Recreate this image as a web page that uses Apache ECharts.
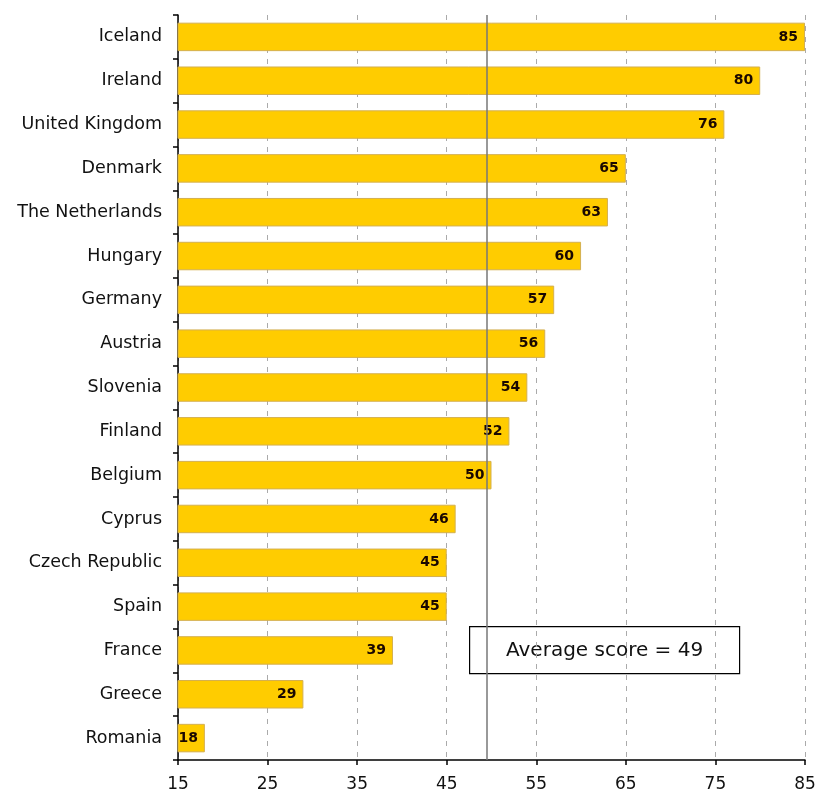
<!DOCTYPE html>
<html><head><meta charset="utf-8">
<script src="https://cdn.jsdelivr.net/npm/echarts@6/dist/echarts.min.js"></script>
<style>html,body{margin:0;padding:0;background:#fff}#c{width:815px;height:803px}</style>
</head><body><div id="c"></div>
<script>
const countries = ["Iceland","Ireland","United Kingdom","Denmark","The Netherlands","Hungary","Germany","Austria","Slovenia","Finland","Belgium","Cyprus","Czech Republic","Spain","France","Greece","Romania"];
const scores = [85,80,76,65,63,60,57,56,54,52,50,46,45,45,39,29,18];
const averageLinePos = 49.5;
const averageText = "Average score = 49";
const xTicks = [15,25,35,45,55,65,75,85];

const chart = echarts.init(document.getElementById('c'));
chart.setOption({
  animation: false,
  grid: {left: 178, right: 10, top: 15, bottom: 43, containLabel: false, outerBoundsMode: 'none'},
  xAxis: {
    type: 'value', min: 15, max: 85, interval: 10,
    axisLine: {show: true, lineStyle: {color: '#000', width: 1.5}},
    axisTick: {show: true, length: 5, lineStyle: {color: '#000', width: 1.5}},
    axisLabel: {color: '#111', fontSize: 17, fontFamily: 'DejaVu Sans, sans-serif', margin: 16},
    splitLine: {show: true, lineStyle: {color: '#aaa', type: [5, 6], width: 1}}
  },
  yAxis: {
    type: 'category', data: countries, inverse: true,
    axisLine: {show: true, lineStyle: {color: '#000', width: 1.5}},
    axisTick: {show: true, length: 5, lineStyle: {color: '#000', width: 1.5}},
    axisLabel: {color: '#111', fontSize: 17.5, fontFamily: 'DejaVu Sans, sans-serif', margin: 16}
  },
  series: [{
    type: 'bar', data: scores, barCategoryGap: '35%',
    itemStyle: {color: '#FFCC00', borderColor: '#D4B050', borderWidth: 1},
    label: {show: true, position: 'insideRight', distance: 7, color: '#1a0800', fontWeight: 'bold', fontSize: 14, fontFamily: 'DejaVu Sans, sans-serif'},
    markLine: {
      silent: true, symbol: 'none', label: {show: false},
      lineStyle: {color: '#777', type: 'solid', width: 1.5},
      data: [{xAxis: averageLinePos}]
    }
  }],
  graphic: [{
    type: 'group', left: 469, top: 626,
    children: [
      {type: 'rect', shape: {x: 0, y: 0, width: 270, height: 47}, style: {fill: '#fff', stroke: '#000', lineWidth: 1.2}},
      {type: 'text', style: {x: 135, y: 24, text: averageText, align: 'center', verticalAlign: 'middle', fontSize: 20, fontFamily: 'DejaVu Sans, sans-serif', fill: '#111'}}
    ]
  }]
});
</script></body></html>
